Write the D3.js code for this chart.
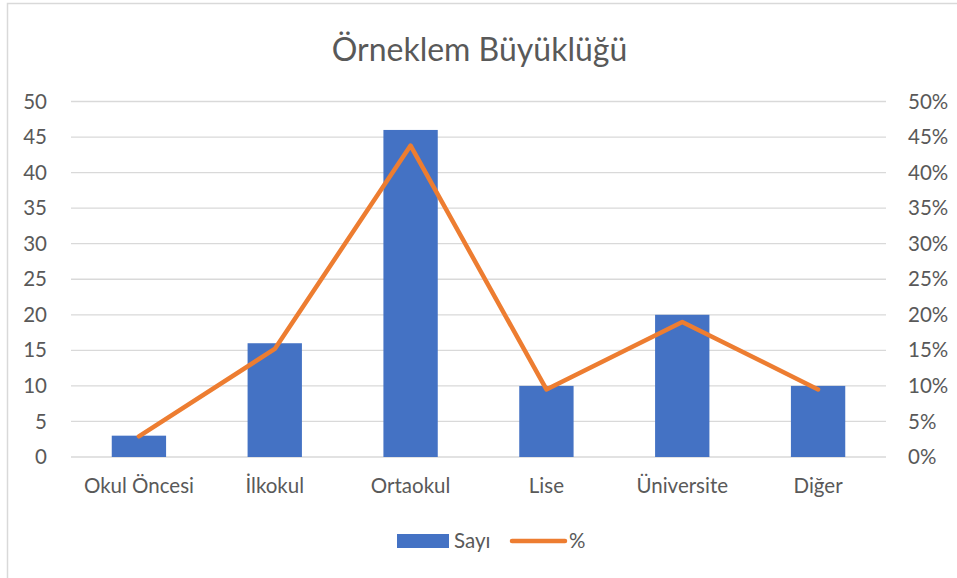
<!DOCTYPE html>
<html>
<head>
<meta charset="utf-8">
<script src="https://cdn.jsdelivr.net/npm/d3@7"></script>
<style>
  body { margin: 0; background: #fff; }
  text { font-family: Lato, "Liberation Sans", sans-serif; fill: #595959; }
</style>
</head>
<body>
<svg id="chart"></svg>
<script>
const categories = ["Okul Öncesi", "İlkokul", "Ortaokul", "Lise", "Üniversite", "Diğer"];
const counts = [3, 16, 46, 10, 20, 10];
const percents = [0.029, 0.152, 0.438, 0.095, 0.190, 0.095];
const countTicks = [0, 5, 10, 15, 20, 25, 30, 35, 40, 45, 50];
const pctTicks = [0, 0.05, 0.1, 0.15, 0.2, 0.25, 0.3, 0.35, 0.4, 0.45, 0.5];

const width = 957, height = 578;
const margin = { top: 101.5, right: 71, bottom: 121, left: 71 };
const innerW = width - margin.left - margin.right;
const innerH = height - margin.top - margin.bottom;
const fontSize = 20.5;

const svg = d3.select("#chart").attr("width", width).attr("height", height);

// outer frame
svg.append("rect")
  .attr("x", 7.5).attr("y", 3.5)
  .attr("width", 960).attr("height", 590)
  .attr("fill", "none").attr("stroke", "#d9d9d9").attr("stroke-width", 1.5);

svg.append("text")
  .attr("x", width / 2 + 1).attr("y", 61)
  .attr("text-anchor", "middle")
  .attr("font-size", 32)
  .text("Örneklem Büyüklüğü");

const chart = svg.append("g").attr("transform", `translate(${margin.left},${margin.top})`);

const x = d3.scaleBand().domain(categories).range([0, innerW]).paddingInner(0.6).paddingOuter(0.3);
const y = d3.scaleLinear().domain([0, 50]).range([innerH, 0]);
const y2 = d3.scaleLinear().domain([0, 0.5]).range([innerH, 0]);

// grid
chart.append("g")
  .selectAll("line")
  .data(countTicks)
  .join("line")
  .attr("x1", 0).attr("x2", innerW)
  .attr("y1", d => y(d)).attr("y2", d => y(d))
  .attr("stroke", "#d9d9d9").attr("stroke-width", 1.3);

const yAxis = chart.append("g")
  .call(d3.axisLeft(y).tickValues(countTicks).tickSize(0).tickPadding(24));
yAxis.select(".domain").remove();
yAxis.selectAll("text").attr("font-size", fontSize).attr("fill", "#595959").style("font-family", "Lato, 'Liberation Sans', sans-serif");

const yAxis2 = chart.append("g")
  .attr("transform", `translate(${innerW},0)`)
  .call(d3.axisRight(y2).tickValues(pctTicks).tickSize(0).tickPadding(22).tickFormat(d3.format(".0%")));
yAxis2.select(".domain").remove();
yAxis2.selectAll("text").attr("font-size", fontSize).attr("fill", "#595959").style("font-family", "Lato, 'Liberation Sans', sans-serif");

const xAxis = chart.append("g")
  .attr("transform", `translate(0,${innerH})`)
  .call(d3.axisBottom(x).tickSize(0).tickPadding(21));
xAxis.select(".domain").remove();
xAxis.selectAll("text").attr("font-size", fontSize).attr("fill", "#595959").style("font-family", "Lato, 'Liberation Sans', sans-serif");

chart.append("g")
  .selectAll("rect")
  .data(counts)
  .join("rect")
  .attr("x", (d, i) => x(categories[i]))
  .attr("y", d => y(d))
  .attr("width", x.bandwidth())
  .attr("height", d => innerH - y(d))
  .attr("fill", "#4472c4");

chart.append("path")
  .datum(percents)
  .attr("fill", "none")
  .attr("stroke", "#ed7d31")
  .attr("stroke-width", 4.5)
  .attr("stroke-linejoin", "round")
  .attr("stroke-linecap", "round")
  .attr("d", d3.line()
    .x((d, i) => x(categories[i]) + x.bandwidth() / 2)
    .y(d => y2(d)));

// legend
const legend = svg.append("g");
legend.append("rect")
  .attr("x", 397).attr("y", 534)
  .attr("width", 52).attr("height", 14)
  .attr("fill", "#4472c4");
legend.append("text")
  .attr("x", 454).attr("y", 548)
  .attr("font-size", fontSize)
  .text("Sayı");
legend.append("line")
  .attr("x1", 512).attr("x2", 565)
  .attr("y1", 541).attr("y2", 541)
  .attr("stroke", "#ed7d31").attr("stroke-width", 4.5)
  .attr("stroke-linecap", "round");
legend.append("text")
  .attr("x", 569).attr("y", 548)
  .attr("font-size", fontSize)
  .text("%");
</script>
</body>
</html>
